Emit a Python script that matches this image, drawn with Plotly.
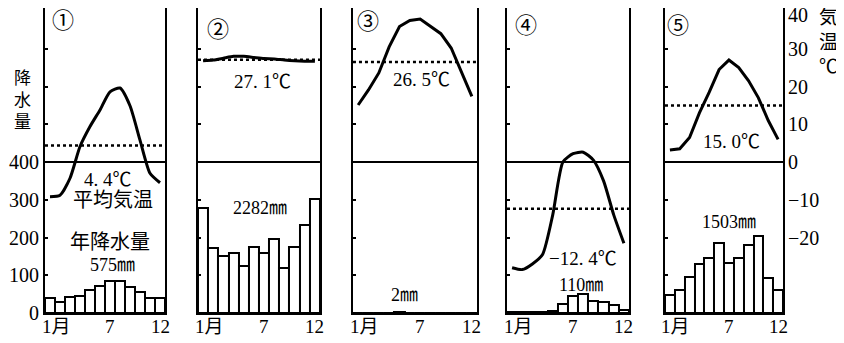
import plotly.graph_objects as go

months = list(range(1, 13))
panel_labels = ["①", "②", "③", "④", "⑤"]
month_ticks = ["1月", "7", "12"]
temp_ticks = [-20, -10, 0, 10, 20, 30, 40]
temp_tick_text = ["−20", "−10", "0", "10", "20", "30", "40"]

# monthly mean temperature (°C)
temp_1 = [-9.2, -8.8, -4.3, 4.1, 9.4, 13.8, 18.6, 19.6, 14.9, 5.8, -3.0, -5.5]
temp_2 = [26.8, 27.0, 27.5, 28.0, 28.0, 27.7, 27.4, 27.3, 27.0, 26.8, 26.7, 26.7]
temp_3 = [15.1, 19.1, 23.6, 30.5, 35.9, 37.5, 37.9, 35.9, 34.0, 30.2, 23.8, 17.4]
temp_4 = [-28.0, -28.5, -27.0, -24.5, -14.0, 0.0, 2.2, 2.6, 0.5, -5.0, -14.0, -21.5]
temp_5 = [3.2, 3.5, 6.5, 13.0, 18.5, 24.5, 27.0, 25.0, 21.5, 17.0, 11.0, 6.0]

# monthly precipitation (mm)
rain_1 = [40, 30, 42, 46, 62, 72, 84, 84, 68, 56, 40, 40]
rain_2 = [278, 172, 151, 160, 125, 174, 158, 195, 119, 176, 233, 302]
rain_3 = [0, 0, 0, 1, 2, 0, 0, 0, 0, 0, 0, 0]
rain_4 = [2, 2, 2, 2, 5, 25, 45, 50, 32, 28, 20, 8]
rain_5 = [48, 61, 96, 129, 145, 185, 133, 147, 180, 204, 92, 60]

mean_temp = [4.4, 27.1, 26.5, -12.4, 15.0]
mean_text = ["4. 4℃", "27. 1℃", "26. 5℃", "−12. 4℃", "15. 0℃"]
annual_text = ["575㎜", "2282㎜", "2㎜", "110㎜", "1503㎜"]

temps = [temp_1, temp_2, temp_3, temp_4, temp_5]
rains = [rain_1, rain_2, rain_3, rain_4, rain_5]

FONT = "Liberation Serif, Noto Sans CJK JP"
domains = [(0.0, 0.1626), (0.2073, 0.3726), (0.4173, 0.5854), (0.6260, 0.7913), (0.8401, 1.0)]
curve_shape = ["spline", "spline", "linear", "spline", "linear"]
tick_pos = [1.6, 7.0, 12.0]
temp_pos = [(6.8, 353), (6.8, 613), (7.15, 618), (8.0, 145), (7.25, 454)]
rain_pos = [(7.2, 127), (6.6, 278), (5.5, 48), (7.8, 74), (7.05, 242)]
num_pos = [(2.3, 776), (2.5, 750), (2.0, 771), (2.4, 762), (1.8, 762)]


def ax(letter, n):
    return letter if n == 1 else f"{letter}{n}"


fig = go.Figure()
shapes = []
annotations = []

for i in range(5):
    n = i + 1
    xa, ya, yt = ax("x", n), ax("y", n), ax("y", n + 5)
    fig.add_trace(go.Bar(
        x=months, y=rains[i], xaxis=xa, yaxis=ya, width=1,
        marker=dict(color="white", line=dict(color="black", width=2)),
        showlegend=False,
    ))
    fig.add_trace(go.Scatter(
        x=months, y=temps[i], xaxis=xa, yaxis=yt, mode="lines",
        line=dict(color="black", width=3, shape=curve_shape[i], smoothing=0.6),
        showlegend=False,
    ))

    fig.layout[ax("xaxis", n)] = dict(
        domain=list(domains[i]), anchor=ya, range=[0.5, 12.5], automargin=False,
        showline=True, mirror=True, linecolor="black", linewidth=2,
        showgrid=False, zeroline=False, ticks="", showticklabels=False,
    )
    fig.layout[ax("yaxis", n)] = dict(
        domain=[0, 1], anchor=xa, range=[0, 808], automargin=False,
        showline=True, mirror=True, linecolor="black", linewidth=2,
        showgrid=False, zeroline=False, ticks="inside", ticklen=3,
        tickcolor="black", tickwidth=2,
        tickvals=[0, 100, 200, 300, 400, 500, 600, 700],
        ticktext=["0", "100", "200", "300", "400", "", "", ""],
        showticklabels=(n == 1),
        tickfont=dict(family=FONT, size=20, color="black"),
    )
    fig.layout[ax("yaxis", n + 5)] = dict(
        overlaying=ya, anchor=xa, side="right", range=[-40, 40.8], automargin=False,
        showline=False, showgrid=False, zeroline=False, ticks="", showticklabels=False,
    )

    shapes.append(dict(type="line", xref=f"{xa} domain", yref=yt, x0=0, x1=1,
                       y0=0, y1=0, line=dict(color="black", width=2)))
    shapes.append(dict(type="line", xref=f"{xa} domain", yref=yt, x0=0, x1=1,
                       y0=mean_temp[i], y1=mean_temp[i],
                       line=dict(color="black", width=2.5, dash="dot")))

    for tv, tt in zip(tick_pos, month_ticks):
        annotations.append(dict(x=tv, y=0, xref=xa, yref="paper", yanchor="middle",
                                yshift=-13, text=tt, showarrow=False,
                                font=dict(family=FONT, size=19, color="black")))
    annotations.append(dict(x=num_pos[i][0], y=num_pos[i][1], xref=xa, yref=ya,
                            text=panel_labels[i], showarrow=False,
                            font=dict(family=FONT, size=22, color="black")))
    annotations.append(dict(x=temp_pos[i][0], y=temp_pos[i][1], xref=xa, yref=ya,
                            text=mean_text[i], showarrow=False,
                            font=dict(family=FONT, size=19, color="black")))
    annotations.append(dict(x=rain_pos[i][0], y=rain_pos[i][1], xref=xa, yref=ya,
                            text=annual_text[i], showarrow=False,
                            font=dict(family=FONT, size=18, color="black")))

# temperature scale on the right of panel 5
for tv, tt in zip(temp_ticks, temp_tick_text):
    annotations.append(dict(x=1, y=tv, xref="x5 domain", yref="y10", xanchor="left",
                            yanchor="middle", xshift=3, yshift=-4 if tv == 40 else 0,
                            text=tt, showarrow=False,
                            font=dict(family=FONT, size=20, color="black")))

annotations += [
    dict(x=7.3, y=300, xref="x", yref="y", text="平均気温", showarrow=False,
         font=dict(family=FONT, size=20, color="black")),
    dict(x=7.0, y=188, xref="x", yref="y", text="年降水量", showarrow=False,
         font=dict(family=FONT, size=20, color="black")),
    dict(x=-0.031, y=0.698, xref="paper", yref="paper", xanchor="center", yanchor="middle",
         text="降<br>水<br>量", showarrow=False,
         font=dict(family=FONT, size=17, color="black")),
    dict(x=1.061, y=0.889, xref="paper", yref="paper", xanchor="center", yanchor="middle",
         text="気<br>温<br>℃", showarrow=False,
         font=dict(family=FONT, size=19, color="black")),
]

# the page body adds an 8px offset, so the figure is sized to land on the reference frame
fig.update_layout(
    width=836, height=335,
    margin=dict(l=37, r=61, t=0, b=30),
    paper_bgcolor="white", plot_bgcolor="white",
    bargap=0, shapes=shapes, annotations=annotations,
)

fig.write_html("out.html")
